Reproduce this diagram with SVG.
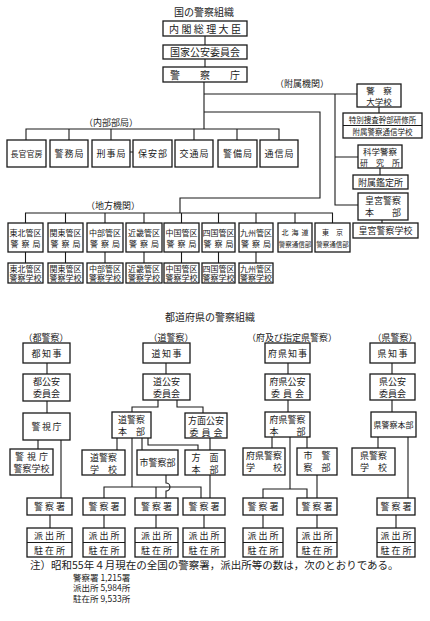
<svg xmlns="http://www.w3.org/2000/svg" width="430" height="621" viewBox="0 0 430 621">
<style>
.b{fill:#fff;stroke:#1a1a1a;stroke-width:1.3}
.c{fill:none;stroke:#1a1a1a;stroke-width:1.1}
text{font-family:"Noto Sans CJK JP","Noto Sans CJK SC",sans-serif;fill:#1a1a1a;text-anchor:middle}
.f65{font-size:6.5px}.f7{font-size:7px}.f75{font-size:7.5px}.f8{font-size:8px}.f85{font-size:8.5px}.f9{font-size:9px}.f10{font-size:10px}
.st{text-anchor:start}
</style>
<rect width="430" height="621" fill="#fff"/>

<g id="connectors">
<path class="c" d="M205 36V45M205 59V67M204 82V129M204 94H357M335 94V205H358M335 157H358M379 107V113M380 168V175M382 220V223"/>
<path class="c" d="M204 112H320V198H180V213"/>
<path class="c" d="M26 140V129H279V140M69 129V140M111 129V140M194 129V140M237 129V140M130 152H133"/>
<path class="c" d="M25.5 223V213H332.5V223M65.5 213V223M105 213V223M144 213V223M181.5 213V223M218.5 213V223M256 213V223M295 213V223"/>
<path class="c" d="M25.5 252V263M65.5 252V263M105 252V263M144 252V263M181.5 252V263M218.5 252V263M256 252V263"/>
<path class="c" d="M47 363V374M47 401V413M38 440V449M61 440V498M50 515V528"/>
<path class="c" d="M166 363V374M158 400V407H132V412M177 400V407H203V413M117 438V450M132 438V487M142 438V450M148 438V445H198V450M210 438V450"/>
<path class="c" d="M104 498V487H201V498M156 487V498M166 475V483A4 4 0 0 1 166 491V498M210 475V498M104 515V528M156 515V528M204 515V528"/>
<path class="c" d="M288 363V374M288 400V412M272 437V448M307 437V448M290 437V489M263 498V489H307V498M317 475V498M263 515V528M317 515V528"/>
<path class="c" d="M392 363V374M392 400V412M378 437V448M408 437V498M396 515V528"/>
</g>

<g id="title-national"><text class="f10" x="204" y="16">国の警察組織</text></g>
<g id="n-naikaku"><rect class="b" x="163" y="21" width="84" height="15"/><text class="f10" x="206.2" y="32.5" letter-spacing="2.4">内閣総理大臣</text></g>
<g id="n-kokka"><rect class="b" x="163" y="45" width="84" height="14"/><text class="f10" x="205" y="56">国家公安委員会</text></g>
<g id="n-cho"><rect class="b" x="163" y="67" width="84" height="15"/><text class="f10" x="205" y="78.5">警　　察　　庁</text></g>

<g id="lbl-fuzoku"><text class="f9" x="302" y="87">（附属機関）</text></g>
<g id="lbl-naibu"><text class="f9" x="111" y="126">（内部部局）</text></g>
<g id="lbl-chiho"><text class="f9" x="113" y="209">（地方機関）</text></g>

<g id="n-chokan"><rect class="b" x="7" y="140" width="39" height="27"/><text class="f8" x="26.5" y="157">長官官房</text></g>
<g id="n-keimu"><rect class="b" x="50" y="140" width="38" height="27"/><text class="f9" x="69.5" y="157" letter-spacing="1">警務局</text></g>
<g id="n-keiji"><rect class="b" x="92" y="140" width="38" height="27"/><text class="f9" x="111.5" y="157" letter-spacing="1">刑事局</text></g>
<g id="n-hoan"><rect class="b" x="133" y="140" width="39" height="27"/><text class="f9" x="153" y="157" letter-spacing="1">保安部</text></g>
<g id="n-kotsu"><rect class="b" x="175" y="140" width="38" height="27"/><text class="f9" x="194.5" y="157" letter-spacing="1">交通局</text></g>
<g id="n-keibi"><rect class="b" x="218" y="140" width="39" height="27"/><text class="f9" x="238" y="157" letter-spacing="1">警備局</text></g>
<g id="n-tsushin"><rect class="b" x="260" y="140" width="38" height="27"/><text class="f9" x="279.5" y="157" letter-spacing="1">通信局</text></g>

<g id="n-daigaku"><rect class="b" x="357" y="84" width="44" height="23"/><text class="f85"><tspan x="379" y="93.5">警　察</tspan><tspan x="379" y="104.5">大学校</tspan></text></g>
<g id="n-tokubetsu"><rect class="b" x="343" y="113" width="79" height="25"/><path class="c" d="M343 125.5H422"/><text class="f75"><tspan x="382.5" y="122.5">特別捜査幹部研修所</tspan><tspan x="382.5" y="135">附属警察通信学校</tspan></text></g>
<g id="n-kaken"><rect class="b" x="358" y="145" width="44" height="23"/><text class="f85"><tspan x="380" y="154.5">科学警察</tspan><tspan x="380" y="165.5" style="font-size:8px">研　究　所</tspan></text></g>
<g id="n-kantei"><rect class="b" x="353" y="175" width="55" height="14"/><text class="f9" x="380.5" y="185.5">附属鑑定所</text></g>
<g id="n-kogu"><rect class="b" x="358" y="193" width="50" height="27"/><text class="f9"><tspan x="383" y="204">皇宮警察</tspan><tspan x="383" y="215.5">本　　部</tspan></text></g>
<g id="n-kogugakko"><rect class="b" x="353" y="223" width="65" height="15"/><text class="f9" x="385.5" y="234">皇宮警察学校</text></g>

<g id="n-tohoku"><rect class="b" x="8" y="223" width="35" height="29"/><text class="f8"><tspan x="25.5" y="235.5">東北管区</tspan><tspan x="27" y="247" letter-spacing="3">警察局</tspan></text></g>
<g id="n-kanto"><rect class="b" x="48" y="223" width="35" height="29"/><text class="f8"><tspan x="65.5" y="235.5">関東管区</tspan><tspan x="67" y="247" letter-spacing="3">警察局</tspan></text></g>
<g id="n-chubu"><rect class="b" x="87" y="223" width="36" height="29"/><text class="f8"><tspan x="105" y="235.5">中部管区</tspan><tspan x="106.5" y="247" letter-spacing="3">警察局</tspan></text></g>
<g id="n-kinki"><rect class="b" x="126" y="223" width="36" height="29"/><text class="f8"><tspan x="144" y="235.5">近畿管区</tspan><tspan x="145.5" y="247" letter-spacing="3">警察局</tspan></text></g>
<g id="n-chugoku"><rect class="b" x="164" y="223" width="35" height="29"/><text class="f8"><tspan x="181.5" y="235.5">中国管区</tspan><tspan x="183" y="247" letter-spacing="3">警察局</tspan></text></g>
<g id="n-shikoku"><rect class="b" x="202" y="223" width="33" height="29"/><text class="f8"><tspan x="218.5" y="235.5">四国管区</tspan><tspan x="220" y="247" letter-spacing="3">警察局</tspan></text></g>
<g id="n-kyushu"><rect class="b" x="239" y="223" width="34" height="29"/><text class="f8"><tspan x="256" y="235.5">九州管区</tspan><tspan x="257.5" y="247" letter-spacing="3">警察局</tspan></text></g>
<g id="n-hokkaido"><rect class="b" x="278" y="223" width="34" height="29"/><text><tspan class="f7" x="296.5" y="235" letter-spacing="3">北海道</tspan><tspan class="f65" x="295" y="246.5">警察通信部</tspan></text></g>
<g id="n-tokyo"><rect class="b" x="315" y="223" width="35" height="29"/><text><tspan class="f7" x="332.5" y="235">東　京</tspan><tspan class="f65" x="332.5" y="246.5">警察通信部</tspan></text></g>

<g id="s-tohoku"><rect class="b" x="8" y="263" width="35" height="20"/><text class="f8"><tspan x="25.5" y="271.5">東北管区</tspan><tspan x="25.5" y="281">警察学校</tspan></text></g>
<g id="s-kanto"><rect class="b" x="48" y="263" width="35" height="20"/><text class="f8"><tspan x="65.5" y="271.5">関東管区</tspan><tspan x="65.5" y="281">警察学校</tspan></text></g>
<g id="s-chubu"><rect class="b" x="87" y="263" width="36" height="20"/><text class="f8"><tspan x="105" y="271.5">中部管区</tspan><tspan x="105" y="281">警察学校</tspan></text></g>
<g id="s-kinki"><rect class="b" x="126" y="263" width="36" height="20"/><text class="f8"><tspan x="144" y="271.5">近畿管区</tspan><tspan x="144" y="281">警察学校</tspan></text></g>
<g id="s-chugoku"><rect class="b" x="164" y="263" width="35" height="20"/><text class="f8"><tspan x="181.5" y="271.5">中国管区</tspan><tspan x="181.5" y="281">警察学校</tspan></text></g>
<g id="s-shikoku"><rect class="b" x="202" y="263" width="33" height="20"/><text class="f8"><tspan x="218.5" y="271.5">四国管区</tspan><tspan x="218.5" y="281">警察学校</tspan></text></g>
<g id="s-kyushu"><rect class="b" x="239" y="263" width="34" height="20"/><text class="f8"><tspan x="256" y="271.5">九州管区</tspan><tspan x="256" y="281">警察学校</tspan></text></g>

<g id="title-pref"><text class="f10" x="210" y="321">都道府県の警察組織</text></g>
<g id="lbl-to"><text class="f9" x="46" y="341">（都警察）</text></g>
<g id="lbl-do"><text class="f9" x="171" y="341">（道警察）</text></g>
<g id="lbl-fu"><text class="f9" x="292" y="341">（府及び指定県警察）</text></g>
<g id="lbl-ken"><text class="f9" x="395" y="341">（県警察）</text></g>

<g id="to-chiji"><rect class="b" x="23" y="343" width="47" height="20"/><text class="f9" x="47.2" y="357" letter-spacing="1.5">都知事</text></g>
<g id="to-koan"><rect class="b" x="23" y="374" width="47" height="27"/><text class="f9"><tspan x="46.5" y="385">都公安</tspan><tspan x="46.5" y="397">委員会</tspan></text></g>
<g id="to-keishicho"><rect class="b" x="23" y="413" width="47" height="27"/><text class="f9" x="47.2" y="430" letter-spacing="1.5">警視庁</text></g>
<g id="to-gakko"><rect class="b" x="10" y="449" width="43" height="26"/><text class="f9"><tspan x="33" y="459.5" letter-spacing="3">警視庁</tspan><tspan x="31.5" y="471.5">警察学校</tspan></text></g>
<g id="to-sho"><rect class="b" x="27" y="498" width="45" height="17"/><text class="f9" x="50.5" y="510" letter-spacing="2">警察署</text></g>
<g id="to-hashutsu"><rect class="b" x="27" y="528" width="45" height="29"/><path class="c" d="M27 542.5H72"/><text class="f9"><tspan x="50.5" y="539" letter-spacing="2">派出所</tspan><tspan x="50.5" y="553.5" letter-spacing="2">駐在所</tspan></text></g>

<g id="do-chiji"><rect class="b" x="143" y="343" width="47" height="20"/><text class="f9" x="167.2" y="357" letter-spacing="1.5">道知事</text></g>
<g id="do-koan"><rect class="b" x="143" y="374" width="47" height="26"/><text class="f9"><tspan x="166.5" y="385">道公安</tspan><tspan x="166.5" y="397">委員会</tspan></text></g>
<g id="do-honbu"><rect class="b" x="112" y="412" width="39" height="26"/><text class="f9"><tspan x="131.5" y="422.5">道警察</tspan><tspan x="131.5" y="434.5">本　部</tspan></text></g>
<g id="do-homen-koan"><rect class="b" x="185" y="413" width="42" height="25"/><text class="f9"><tspan x="206" y="423.5">方面公安</tspan><tspan x="207.5" y="435.5" letter-spacing="3">委員会</tspan></text></g>
<g id="do-gakko"><rect class="b" x="82" y="450" width="43" height="25"/><text class="f9"><tspan x="103.5" y="460.5">道警察</tspan><tspan x="103.5" y="472.5">学　校</tspan></text></g>
<g id="do-shikeisatsu"><rect class="b" x="137" y="450" width="41" height="25"/><text class="f9" x="157.5" y="466">市警察部</text></g>
<g id="do-homen-honbu"><rect class="b" x="185" y="450" width="40" height="25"/><text class="f9"><tspan x="205" y="460.5">方　面</tspan><tspan x="205" y="472.5">本　部</tspan></text></g>
<g id="do-sho1"><rect class="b" x="83" y="498" width="42" height="17"/><text class="f9" x="105" y="510" letter-spacing="2">警察署</text></g>
<g id="do-sho2"><rect class="b" x="135" y="498" width="43" height="17"/><text class="f9" x="157.5" y="510" letter-spacing="2">警察署</text></g>
<g id="do-sho3"><rect class="b" x="183" y="498" width="42" height="17"/><text class="f9" x="205" y="510" letter-spacing="2">警察署</text></g>
<g id="do-hashutsu1"><rect class="b" x="83" y="528" width="42" height="29"/><path class="c" d="M83 542.5H125"/><text class="f9"><tspan x="105" y="539" letter-spacing="2">派出所</tspan><tspan x="105" y="553.5" letter-spacing="2">駐在所</tspan></text></g>
<g id="do-hashutsu2"><rect class="b" x="135" y="528" width="43" height="29"/><path class="c" d="M135 542.5H178"/><text class="f9"><tspan x="157.5" y="539" letter-spacing="2">派出所</tspan><tspan x="157.5" y="553.5" letter-spacing="2">駐在所</tspan></text></g>
<g id="do-hashutsu3"><rect class="b" x="183" y="528" width="42" height="29"/><path class="c" d="M183 542.5H225"/><text class="f9"><tspan x="205" y="539" letter-spacing="2">派出所</tspan><tspan x="205" y="553.5" letter-spacing="2">駐在所</tspan></text></g>

<g id="fu-chiji"><rect class="b" x="265" y="343" width="45" height="20"/><text class="f9" x="288" y="357" letter-spacing="1">府県知事</text></g>
<g id="fu-koan"><rect class="b" x="265" y="374" width="45" height="26"/><text class="f9"><tspan x="287.5" y="385">府県公安</tspan><tspan x="289" y="397" letter-spacing="3">委員会</tspan></text></g>
<g id="fu-honbu"><rect class="b" x="265" y="412" width="45" height="25"/><text class="f9"><tspan x="287.5" y="422.5">府県警察</tspan><tspan x="287.5" y="434.5">本　　部</tspan></text></g>
<g id="fu-gakko"><rect class="b" x="243" y="448" width="42" height="27"/><text class="f9"><tspan x="264" y="459">府県警察</tspan><tspan x="264" y="471">学　　校</tspan></text></g>
<g id="fu-shikeisatsu"><rect class="b" x="297" y="448" width="40" height="27"/><text class="f9"><tspan x="317" y="459">市　警</tspan><tspan x="317" y="471">察　部</tspan></text></g>
<g id="fu-sho1"><rect class="b" x="243" y="498" width="40" height="17"/><text class="f9" x="264" y="510" letter-spacing="2">警察署</text></g>
<g id="fu-sho2"><rect class="b" x="297" y="498" width="40" height="17"/><text class="f9" x="318" y="510" letter-spacing="2">警察署</text></g>
<g id="fu-hashutsu1"><rect class="b" x="243" y="528" width="40" height="29"/><path class="c" d="M243 542.5H283"/><text class="f9"><tspan x="264" y="539" letter-spacing="2">派出所</tspan><tspan x="264" y="553.5" letter-spacing="2">駐在所</tspan></text></g>
<g id="fu-hashutsu2"><rect class="b" x="297" y="528" width="40" height="29"/><path class="c" d="M297 542.5H337"/><text class="f9"><tspan x="318" y="539" letter-spacing="2">派出所</tspan><tspan x="318" y="553.5" letter-spacing="2">駐在所</tspan></text></g>

<g id="ken-chiji"><rect class="b" x="370" y="343" width="45" height="20"/><text class="f9" x="393.2" y="357" letter-spacing="1.5">県知事</text></g>
<g id="ken-koan"><rect class="b" x="370" y="374" width="45" height="26"/><text class="f9"><tspan x="392.5" y="385">県公安</tspan><tspan x="392.5" y="397">委員会</tspan></text></g>
<g id="ken-honbu"><rect class="b" x="371" y="412" width="45" height="25"/><text class="f8" x="393.5" y="428">県警察本部</text></g>
<g id="ken-gakko"><rect class="b" x="352" y="448" width="43" height="27"/><text class="f9"><tspan x="373.5" y="459">県警察</tspan><tspan x="373.5" y="471">学　校</tspan></text></g>
<g id="ken-sho"><rect class="b" x="377" y="498" width="38" height="17"/><text class="f9" x="397" y="510" letter-spacing="2">警察署</text></g>
<g id="ken-hashutsu"><rect class="b" x="377" y="528" width="38" height="29"/><path class="c" d="M377 542.5H415"/><text class="f9"><tspan x="397" y="539" letter-spacing="2">派出所</tspan><tspan x="397" y="553.5" letter-spacing="2">駐在所</tspan></text></g>

<g id="note">
<text class="st" x="30" y="569" style="font-size:10.5px">注）昭和55年４月現在の全国の警察署，派出所等の数は，次のとおりである。</text>
<text class="st f85" x="73" y="580.5">警察署 1,215署</text>
<text class="st f85" x="73" y="591">派出所 5,984所</text>
<text class="st f85" x="73" y="601.5">駐在所 9,533所</text>
</g>
</svg>
